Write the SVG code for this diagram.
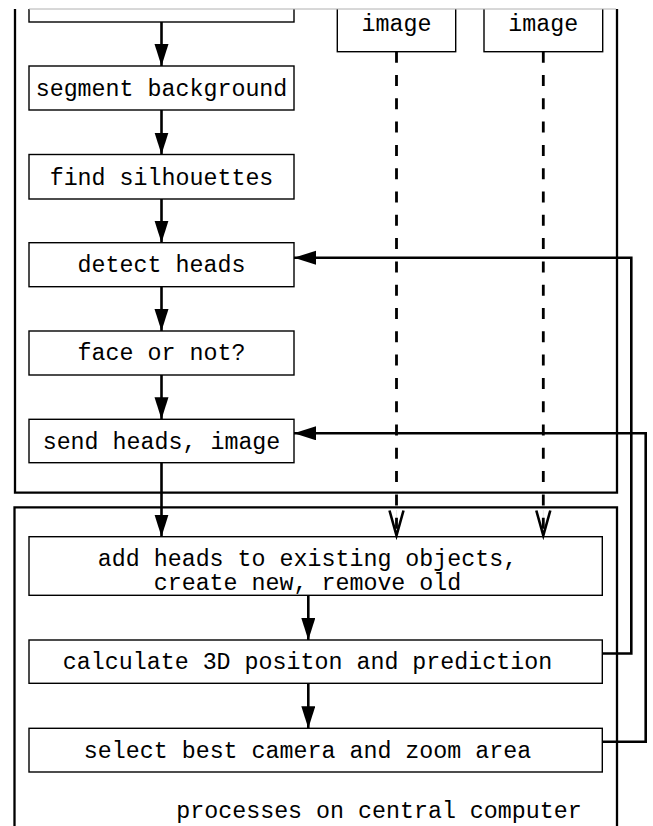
<svg xmlns="http://www.w3.org/2000/svg" width="653" height="826" viewBox="0 0 653 826">
<style>
.box{fill:#fff;stroke:#000;stroke-width:1.4}
.frame{fill:none;stroke:#000;stroke-width:2.3}
.t{font-family:'Courier New','Liberation Mono',monospace;font-size:23.3px;fill:#000;text-anchor:middle}
.c{fill:none;stroke:#000;stroke-width:2.6}
.d{fill:none;stroke:#000;stroke-width:2.8;stroke-dasharray:11 12.3}
</style>
<defs>
<clipPath id="clip"><rect x="0" y="9" width="653" height="817"/></clipPath>
<marker id="ah" markerUnits="userSpaceOnUse" markerWidth="24" markerHeight="16" refX="22" refY="7" orient="auto"><path d="M0,0 L22,7 L0,14 z" fill="#000"/></marker>
<marker id="oh" markerUnits="userSpaceOnUse" markerWidth="30" markerHeight="20" refX="26" refY="9" orient="auto"><path d="M1,2 L26,9 L1,16" fill="none" stroke="#000" stroke-width="2.6" stroke-linejoin="miter"/></marker>
</defs>
<rect width="653" height="826" fill="#fff"/>
<g clip-path="url(#clip)">
<g id="frame-camera">
<path class="frame" d="M15,0 V492.7 H617 V0"/>
</g>
<g id="frame-central">
<path class="frame" d="M14.5,830 V507.3 H617 V830"/>
</g>
<g id="n-capture"><rect class="box" x="29" y="-22" width="265" height="44"/></g>
<g id="n-segment"><rect class="box" x="29" y="66" width="265" height="44"/><text class="t" x="161.5" y="96">segment background</text></g>
<g id="n-silhouettes"><rect class="box" x="29" y="154.5" width="265" height="44.5"/><text class="t" x="161.5" y="184.5">find silhouettes</text></g>
<g id="n-detect"><rect class="box" x="29" y="242.7" width="265" height="44"/><text class="t" x="161.5" y="272">detect heads</text></g>
<g id="n-face"><rect class="box" x="29" y="331" width="265" height="44"/><text class="t" x="161.5" y="360">face or not?</text></g>
<g id="n-send"><rect class="box" x="29" y="419.3" width="265" height="43.4"/><text class="t" x="161.5" y="448.5">send heads, image</text></g>
<g id="n-image1"><rect class="box" x="337.3" y="-10" width="118.4" height="61.7"/><text class="t" x="396.5" y="31">image</text></g>
<g id="n-image2"><rect class="box" x="484" y="-10" width="118.7" height="61.7"/><text class="t" x="543.3" y="31">image</text></g>
<g id="n-add"><rect class="box" x="29" y="536.7" width="573.3" height="58.6"/><text class="t" x="307.5" y="566">add heads to existing objects,</text><text class="t" x="307.5" y="590">create new, remove old</text></g>
<g id="n-calc"><rect class="box" x="29" y="640" width="573.3" height="43.3"/><text class="t" x="307.5" y="669.3">calculate 3D positon and prediction</text></g>
<g id="n-select"><rect class="box" x="29" y="728.3" width="573.3" height="43.7"/><text class="t" x="307.5" y="757.5">select best camera and zoom area</text></g>
<g id="label-central"><text class="t" x="379" y="818">processes on central computer</text></g>
<g id="connectors">
<line class="c" x1="161.5" y1="22" x2="161.5" y2="66" marker-end="url(#ah)"/>
<line class="c" x1="161.5" y1="110" x2="161.5" y2="154.5" marker-end="url(#ah)"/>
<line class="c" x1="161.5" y1="199" x2="161.5" y2="242.7" marker-end="url(#ah)"/>
<line class="c" x1="161.5" y1="286.7" x2="161.5" y2="331" marker-end="url(#ah)"/>
<line class="c" x1="161.5" y1="375" x2="161.5" y2="419.3" marker-end="url(#ah)"/>
<line class="c" x1="161.5" y1="462.7" x2="161.5" y2="536.7" marker-end="url(#ah)"/>
<line class="c" x1="308.3" y1="595.3" x2="308.3" y2="640" marker-end="url(#ah)"/>
<line class="c" x1="308.3" y1="683.3" x2="308.3" y2="728.3" marker-end="url(#ah)"/>
<line class="d" x1="396.5" y1="51.7" x2="396.5" y2="535.5"/>
<line class="d" x1="543.3" y1="51.7" x2="543.3" y2="535.5"/>
<path d="M396.5,510 V535.5" fill="none" stroke="#000" stroke-width="0.1" marker-end="url(#oh)"/>
<path d="M543.3,510 V535.5" fill="none" stroke="#000" stroke-width="0.1" marker-end="url(#oh)"/>
<path class="c" d="M602.3,653.5 H631.3 V257.7 H294" marker-end="url(#ah)"/>
<path class="c" d="M602.3,741.7 H645.7 V433.3 H294" marker-end="url(#ah)"/>
</g>
</g>
<line x1="29" y1="9" x2="616" y2="9" stroke="#b0b0b0" stroke-width="1"/>
</svg>
